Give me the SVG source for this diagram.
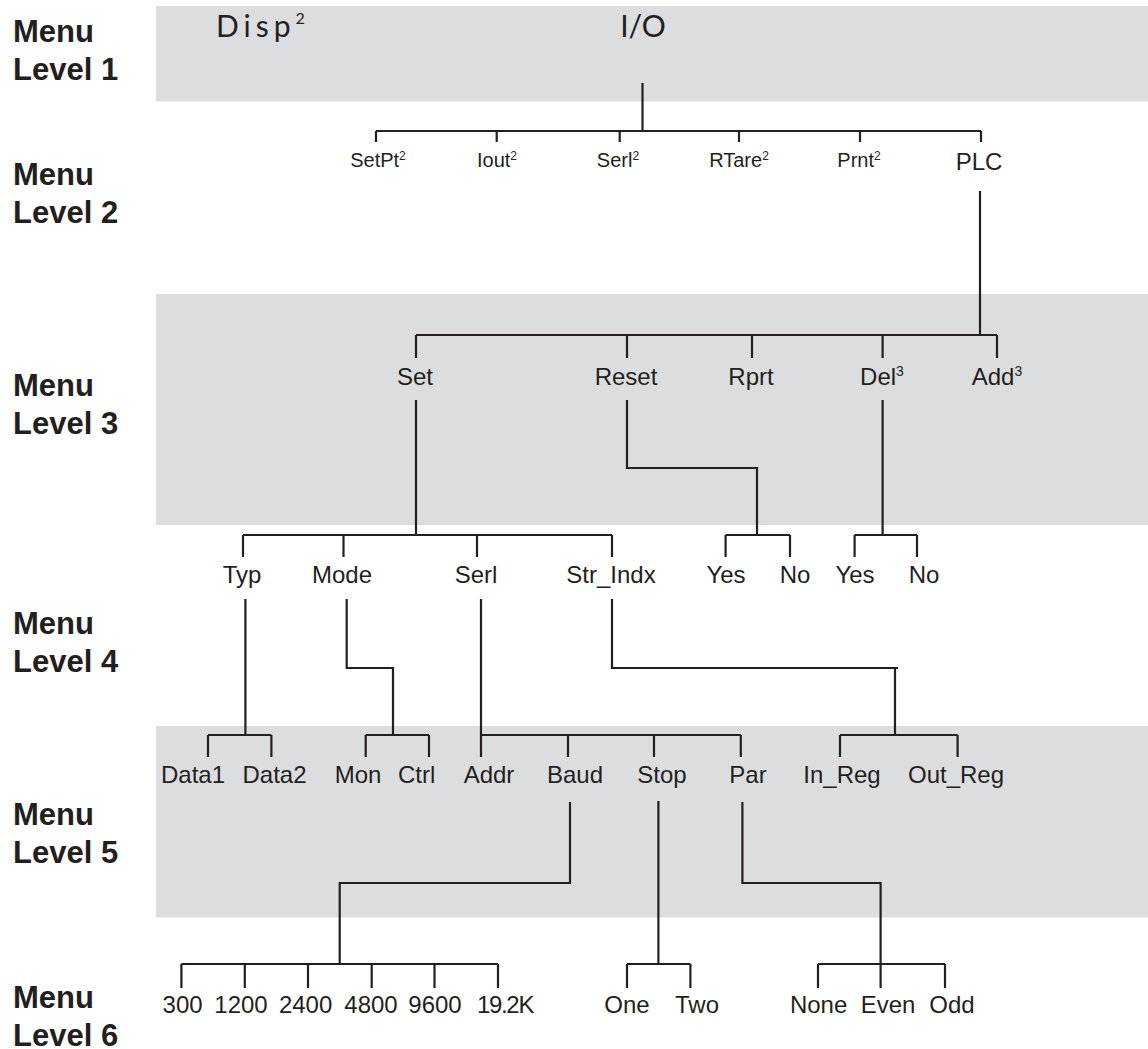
<svg xmlns="http://www.w3.org/2000/svg" width="1148" height="1049" viewBox="0 0 1148 1049">
<style>
.band{fill:#dcdddf}
.lvl{font-family:"Liberation Sans",Arial,sans-serif;font-weight:bold;font-size:31px;fill:#231f20}
.t1{font-family:Lato,"Open Sans",sans-serif;font-size:30px;fill:#231f20}
.t2{font-family:"Liberation Sans",Arial,sans-serif;font-size:20px;fill:#231f20;text-anchor:middle}
.t{font-family:"Liberation Sans",Arial,sans-serif;font-size:24px;fill:#231f20;text-anchor:middle}
.sup2{font-size:12px}
.sup3{font-size:14px}
#connectors path{fill:none;stroke:#231f20;stroke-width:2.2;stroke-linejoin:miter;stroke-linecap:butt}
</style>
<rect width="1148" height="1049" fill="#ffffff"/>
<g id="bands">
<rect class="band" x="156" y="6" width="992" height="95.5"/>
<rect class="band" x="156" y="294" width="992" height="231"/>
<rect class="band" x="156" y="726" width="992" height="191.5"/>
</g>
<g id="level-labels">
<text class="lvl" x="13" y="42">Menu</text><text class="lvl" x="13" y="80">Level 1</text>
<text class="lvl" x="13" y="185">Menu</text><text class="lvl" x="13" y="223">Level 2</text>
<text class="lvl" x="13" y="396">Menu</text><text class="lvl" x="13" y="434">Level 3</text>
<text class="lvl" x="13" y="634">Menu</text><text class="lvl" x="13" y="672">Level 4</text>
<text class="lvl" x="13" y="825">Menu</text><text class="lvl" x="13" y="863">Level 5</text>
<text class="lvl" x="13" y="1008">Menu</text><text class="lvl" x="13" y="1046">Level 6</text>
</g>
<g id="connectors">
<path d="M642.5 83V131M376 131H981M376 131V142M496.7 131V142M619.7 131V142M739 131V142M860 131V142M981 131V142"/>
<path d="M980 191V335M416 335H997M416 335V358M627 335V358M752 335V358M882.6 335V358M997 335V358"/>
<path d="M416 400V535M243 535H612M243 535V557M343.5 535V557M477 535V557M612 535V557"/>
<path d="M627 400V468H757V535M725.6 535H790M725.6 535V557M790 535V557"/>
<path d="M882.6 400V535M854.6 535H917M854.6 535V557M917 535V557"/>
<path d="M245.4 599V735M208 735H271.4M208 735V757M271.4 735V757"/>
<path d="M346.7 599V668H393V735M365.7 735H429M365.7 735V757M429 735V757"/>
<path d="M481 599V735M481 735H740.8M481 735V757M568 735V757M654 735V757M740.8 735V757"/>
<path d="M612 599V668H898M895 668V735M840 735H957.6M840 735V757M957.6 735V757"/>
<path d="M570 802V883H339.7V964M181.4 964H498M181.4 964V988M244.8 964V988M308 964V988M371.7 964V988M434.5 964V988M498 964V988"/>
<path d="M658.4 801V964M627 964H690.4M627 964V988M690.4 964V988"/>
<path d="M742.4 802V883H880.6V964M818 964H945M818 964V988M880.6 964V988M945 964V988"/>
</g>
<g id="n-disp"><text class="t1" x="216" y="37" letter-spacing="5">Disp<tspan font-size="16" dy="-13">2</tspan></text></g>
<g id="n-io"><text class="t1" x="643" y="37" text-anchor="middle">I/O</text></g>
<g id="n-setpt"><text class="t2" x="378" y="166.5">SetPt<tspan class="sup2" dy="-7">2</tspan></text></g>
<g id="n-iout"><text class="t2" x="497" y="166.5">Iout<tspan class="sup2" dy="-7">2</tspan></text></g>
<g id="n-serl2"><text class="t2" x="618" y="166.5">Serl<tspan class="sup2" dy="-7">2</tspan></text></g>
<g id="n-rtare"><text class="t2" x="739" y="166.5">RTare<tspan class="sup2" dy="-7">2</tspan></text></g>
<g id="n-prnt"><text class="t2" x="859" y="166.5">Prnt<tspan class="sup2" dy="-7">2</tspan></text></g>
<g id="n-plc"><text class="t" x="979" y="170" font-size="25">PLC</text></g>
<g id="n-set"><text class="t" x="415" y="385">Set</text></g>
<g id="n-reset"><text class="t" x="626" y="385">Reset</text></g>
<g id="n-rprt"><text class="t" x="751" y="385">Rprt</text></g>
<g id="n-del"><text class="t" x="882" y="385">Del<tspan class="sup3" dy="-9">3</tspan></text></g>
<g id="n-add"><text class="t" x="997" y="385">Add<tspan class="sup3" dy="-9">3</tspan></text></g>
<g id="n-typ"><text class="t" x="242" y="583">Typ</text></g>
<g id="n-mode"><text class="t" x="342" y="583">Mode</text></g>
<g id="n-serl"><text class="t" x="476" y="583">Serl</text></g>
<g id="n-strindx"><text class="t" x="611" y="583">Str_Indx</text></g>
<g id="n-reset-yes"><text class="t" x="726" y="583">Yes</text></g>
<g id="n-reset-no"><text class="t" x="795" y="583">No</text></g>
<g id="n-del-yes"><text class="t" x="855" y="583">Yes</text></g>
<g id="n-del-no"><text class="t" x="924" y="583">No</text></g>
<g id="n-data1"><text class="t" x="193" y="783">Data1</text></g>
<g id="n-data2"><text class="t" x="274.5" y="783">Data2</text></g>
<g id="n-mon"><text class="t" x="358" y="783">Mon</text></g>
<g id="n-ctrl"><text class="t" x="416.6" y="783">Ctrl</text></g>
<g id="n-addr"><text class="t" x="489" y="783">Addr</text></g>
<g id="n-baud"><text class="t" x="575" y="783">Baud</text></g>
<g id="n-stop"><text class="t" x="662" y="783">Stop</text></g>
<g id="n-par"><text class="t" x="748" y="783">Par</text></g>
<g id="n-inreg"><text class="t" x="842" y="783">In_Reg</text></g>
<g id="n-outreg"><text class="t" x="956" y="783">Out_Reg</text></g>
<g id="n-300"><text class="t" x="182.6" y="1013">300</text></g>
<g id="n-1200"><text class="t" x="241" y="1013">1200</text></g>
<g id="n-2400"><text class="t" x="305.6" y="1013">2400</text></g>
<g id="n-4800"><text class="t" x="371" y="1013">4800</text></g>
<g id="n-9600"><text class="t" x="435" y="1013">9600</text></g>
<g id="n-192k"><text class="t" x="505" y="1013" letter-spacing="-1.3">19.2K</text></g>
<g id="n-one"><text class="t" x="627" y="1013">One</text></g>
<g id="n-two"><text class="t" x="697" y="1013">Two</text></g>
<g id="n-none"><text class="t" x="818.6" y="1013">None</text></g>
<g id="n-even"><text class="t" x="888" y="1013">Even</text></g>
<g id="n-odd"><text class="t" x="952" y="1013">Odd</text></g>
</svg>
